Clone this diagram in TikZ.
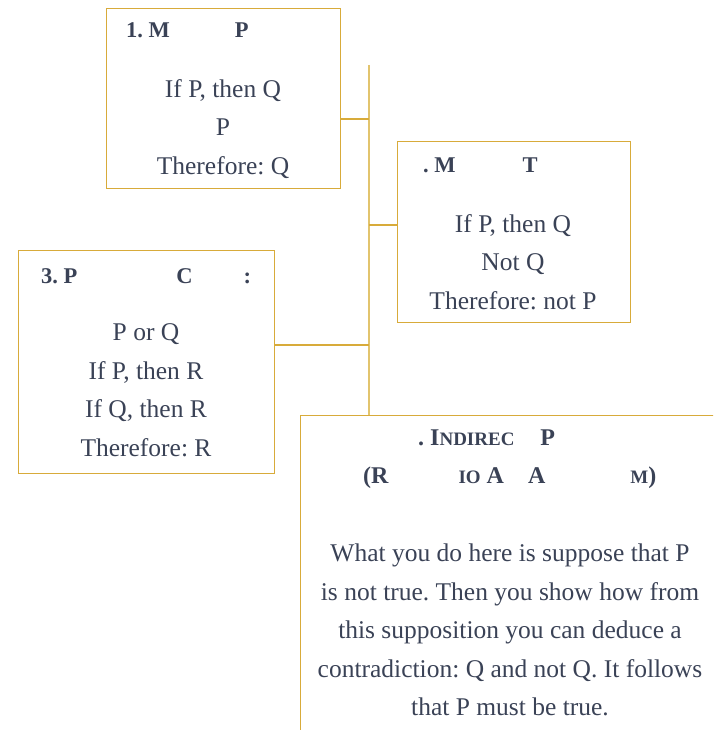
\documentclass[tikz,border=0pt]{standalone}
\usepackage{fontspec}
\setmainfont{Liberation Serif}
\frenchspacing
\definecolor{gold}{HTML}{D8AB3A}
\definecolor{goldlight}{HTML}{E2C46E}
\definecolor{ink}{HTML}{3A4256}
\tikzset{
  rulebox/.style={draw=gold, line width=1.3pt, anchor=north west, inner sep=0pt},
  head/.style={anchor=base west, text=ink, inner sep=0pt, font=\fontsize{22.5}{27}\selectfont\bfseries},
  bighead/.style={head, font=\fontsize{24}{29}\selectfont\bfseries},
  body/.style={align=center, text=ink, inner sep=0pt, font=\fontsize{25.5}{38.5}\selectfont},
  trunk/.style={draw=goldlight, line width=2pt},
  twig/.style={draw=gold, line width=1.3pt},
}
\newcommand{\smcap}[1]{{\fontsize{19}{23}\selectfont #1}}
\begin{document}
\begin{tikzpicture}[x=1pt,y=-1pt]
\useasboundingbox (0,0) rectangle (713,730);
\clip (0,0) rectangle (713,730);

% boxes
\node[rulebox, minimum width=234pt, minimum height=180pt] (mp) at (106,8) {};
\node[rulebox, minimum width=233pt, minimum height=181pt] (mt) at (397,141) {};
\node[rulebox, minimum width=256pt, minimum height=223pt] (pc) at (18,250) {};
\node[rulebox, minimum width=460pt, minimum height=360pt] (ip) at (300,415) {};

% headings
\node[head] (mphead) at (126,38) {1.~M\hspace{65pt}P};
\node[head] (mthead) at (423,172) {.~M\hspace{67pt}T};
\node[head] (pchead) at (41,283) {3.~P\hspace{99pt}C\hspace{51pt}:};
\node[bighead] (iphead) at (418,445) {.~I\smcap{NDIREC}\hspace{26pt}P};
\node[bighead] (ipsub) at (363,483) {(R\hspace{70pt}\smcap{IO}~A\hspace{24pt}A\hspace{85pt}\smcap{M})};

% texts
\node[body] (mptext) at (223,129) {If P, then Q\\P\\Therefore: Q};
\node[body] (mttext) at (513,262) {If P, then Q\\Not Q\\Therefore: not P};
\node[body] (pctext) at (146,390) {P or Q\\If P, then R\\If Q, then R\\Therefore: R};
\node[body] (iptext) at (510,630) {What you do here is suppose that P\\is not true. Then you show how from\\this supposition you can deduce a\\contradiction: Q and not Q. It follows\\that P must be true.};

% tree
\coordinate (top) at (369,65);
\coordinate (jmp) at (369,119);
\coordinate (jmt) at (369,225);
\coordinate (jpc) at (369,345);
\draw[trunk] (top) -- (top |- ip.north);
\draw[twig] (mp.east |- jmp) -- (jmp);
\draw[twig] (jmt) -- (mt.west |- jmt);
\draw[twig] (pc.east |- jpc) -- (jpc);
\end{tikzpicture}
\end{document}
